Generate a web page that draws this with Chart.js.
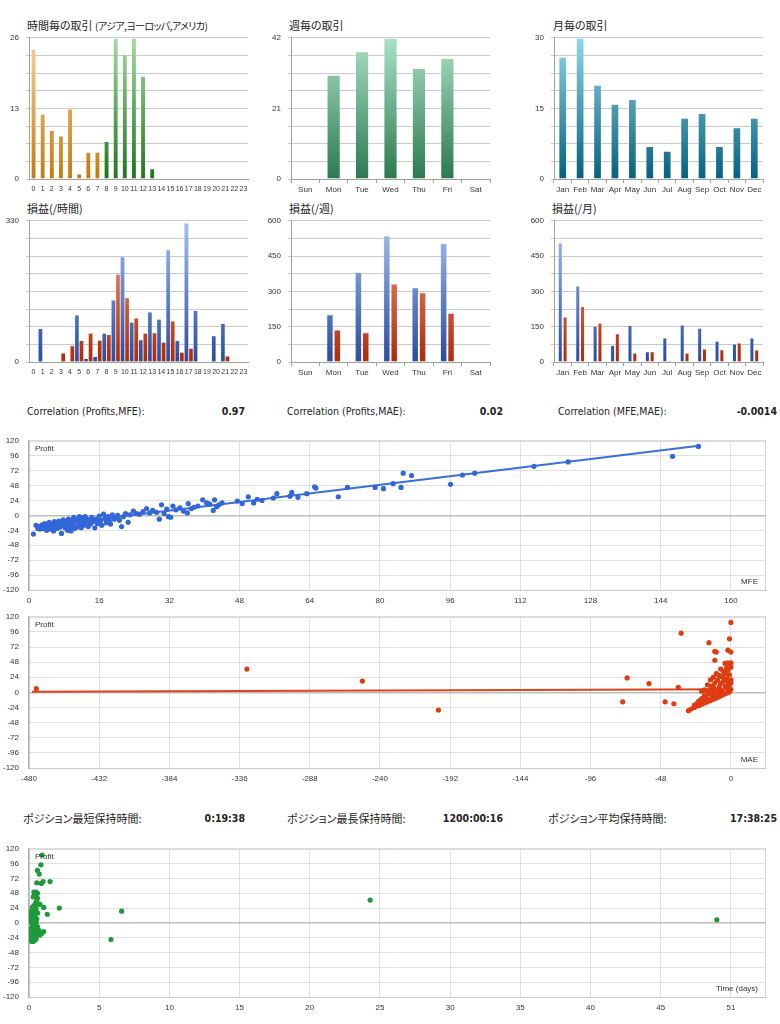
<!DOCTYPE html>
<html><head><meta charset="utf-8">
<script src="https://cdn.jsdelivr.net/npm/chart.js@4.4.0/dist/chart.umd.min.js"></script>
<style>
body{margin:0;background:#fff;width:780px;height:1024px;position:relative;overflow:hidden;font-family:"Liberation Sans",Arial,sans-serif;}
canvas{position:absolute;}
.t{position:absolute;font-family:"Noto Sans CJK JP",sans-serif;font-size:11px;color:#222;white-space:nowrap;font-feature-settings:"palt";line-height:14px;}
.k{font-size:10px;letter-spacing:-0.6px;}
.s{position:absolute;font-family:"DejaVu Sans Condensed","DejaVu Sans",sans-serif;font-stretch:condensed;font-size:10.5px;color:#222;white-space:nowrap;line-height:14px;}
.b{font-weight:bold;text-align:right;}
.j{font-family:"Noto Sans CJK JP",sans-serif;font-feature-settings:"palt";font-size:11px;font-stretch:normal;}
</style></head><body>

<div class="t" style="left:27px;top:18px;">時間毎の取引 <span class="k">(アジア,ヨーロッパ,アメリカ)</span></div>
<div class="t" style="left:289px;top:18px;">週毎の取引</div>
<div class="t" style="left:553px;top:18px;">月毎の取引</div>
<div class="t" style="left:27px;top:201px;">損益(/時間)</div>
<div class="t" style="left:289px;top:201px;">損益(/週)</div>
<div class="t" style="left:552px;top:201px;">損益(/月)</div>

<canvas id="c1" width="252" height="171" style="left:0;top:26px"></canvas>
<canvas id="c2" width="234" height="171" style="left:260px;top:26px"></canvas>
<canvas id="c3" width="247" height="171" style="left:520px;top:26px"></canvas>
<canvas id="c4" width="252" height="171" style="left:0;top:209px"></canvas>
<canvas id="c5" width="234" height="171" style="left:260px;top:209px"></canvas>
<canvas id="c6" width="247" height="171" style="left:520px;top:209px"></canvas>

<div class="s" style="left:27px;top:404px;">Correlation (Profits,MFE):</div>
<div class="s b" style="left:165px;width:80px;top:404px;">0.97</div>
<div class="s" style="left:287px;top:404px;">Correlation (Profits,MAE):</div>
<div class="s b" style="left:423px;width:80px;top:404px;">0.02</div>
<div class="s" style="left:558px;top:404px;">Correlation (MFE,MAE):</div>
<div class="s b" style="left:677px;width:100px;top:404px;">-0.0014</div>

<canvas id="s1" width="780" height="184" style="left:0;top:426px"></canvas>
<canvas id="s2" width="780" height="186" style="left:0;top:602px"></canvas>

<div class="s j" style="left:23px;top:811px;">ポジション最短保持時間:</div>
<div class="s b" style="left:165px;width:80px;top:811px;">0:19:38</div>
<div class="s j" style="left:287px;top:811px;">ポジション最長保持時間:</div>
<div class="s b" style="left:403px;width:100px;top:811px;">1200:00:16</div>
<div class="s j" style="left:548px;top:811px;">ポジション平均保持時間:</div>
<div class="s b" style="left:677px;width:100px;top:811px;">17:38:25</div>

<canvas id="s3" width="780" height="183" style="left:0;top:834px"></canvas>

<script>
// ---------------- data ----------------
const hours = ['0','1','2','3','4','5','6','7','8','9','10','11','12','13','14','15','16','17','18','19','20','21','22','23'];
const tradesPerHour = [24,12,9,8,13,1,5,5,7,26,23,26,19,2,0,0,0,0,0,0,0,0,0,0];
const weekdays = ['Sun','Mon','Tue','Wed','Thu','Fri','Sat'];
const tradesPerWeekday = [0,31,38,42,33,36,0];
const months = ['Jan','Feb','Mar','Apr','May','Jun','Jul','Aug','Sep','Oct','Nov','Dec'];
const tradesPerMonth = [26,30,20,16,17,7,6,13,14,7,11,13];

const profitPerHour = [0,78,0,0,0,110,8,13,67,145,246,93,52,117,100,262,50,325,120,0,61,90,0,0];
const lossPerHour   = [0,0,0,21,38,50,67,51,64,205,150,103,67,68,46,96,23,32,0,0,0,14,0,0];
const profitPerWeekday = [0,202,382,537,317,505,0];
const lossPerWeekday   = [0,137,126,333,296,208,0];
const profitPerMonth = [507,324,153,71,156,45,103,159,145,89,78,103];
const lossPerMonth   = [193,237,166,121,40,45,6,38,57,53,82,52];

// y-axis tick labels of the bar charts
const hourTradeLabels = [0,13,26];
const weekTradeLabels = [0,21,42];
const monthTradeLabels = [0,15,30];
const hourProfitLabels = [0,330];
const weekProfitLabels = [0,150,300,450,600];
const monthProfitLabels = [0,150,300,450,600];

// scatter tick values
const profitTicks = [-120,-96,-72,-48,-24,0,24,48,72,96,120];
const mfeTicks = [0,16,32,48,64,80,96,112,128,144,160];
const maeTicks = [-480,-432,-384,-336,-288,-240,-192,-144,-96,-48,0];
const durationTicks = [0,5,10,15,20,25,30,35,40,45,50];
const durationTickLabels = ['0','5','10','15','20','25','30','35','40','45','51'];

// MFE vs Profit
const mfePoints = [
[1.0,-30],[1.6,-16],[2.0,-21],[2.2,-18],[2.5,-22],[2.7,-19],[3.0,-15],[3.1,-21],[3.4,-17],[3.6,-13],[3.8,-20],[4.0,-24],[4.1,-16],[4.4,-18],[4.6,-11],[4.8,-22],[5.0,-16],[5.2,-14],[5.4,-20],[5.6,-25],[5.8,-10],[6.0,-17],[6.2,-12],[6.4,-21],[6.6,-14],[6.8,-9],[7.0,-19],[7.2,-11],[7.4,-29],[7.6,-16],[7.8,-7],[8.0,-13],[8.2,-20],[8.4,-9],[8.6,-17],[8.8,-24],[9.0,-6],[9.2,-12],[9.4,-18],[9.6,-25],[9.8,-8],[10.0,-14],[10.2,-3],[10.4,-21],[10.6,-10],[10.9,-19],[11.1,-6],[11.3,-15],[11.5,-2],[11.7,-12],[11.9,-20],[12.1,-4],[12.3,-9],[12.5,-16],[12.8,-2],[13.0,-11],[13.2,-6],[13.5,-18],[13.8,-8],[14.0,-14],[14.3,-3],[14.6,-10],[15.0,-20],[15.3,-6],[15.6,-13],[16.0,-1],[16.3,-9],[16.6,-16],[17.0,2],[17.3,-5],[17.6,-12],[18.0,-2],[18.3,-8],[18.6,-14],[19.0,1],[19.4,-6],[19.8,-3],[20.2,0],[20.6,-8],[21.1,-18],[21.5,-2],[22.0,3],[22.6,-11],[23.0,1],[23.8,7],[24.5,3],[25.2,2],[26.0,6],[26.8,11],[27.5,4],[28.2,8],[29.1,5],[29.7,-6],[30.2,17],[30.8,3],[31.4,10],[31.8,-2],[32.3,-3],[32.8,15],[33.5,9],[34.4,12],[35.2,7],[36.1,4],[36.3,19],[37.0,11],[37.6,13],[38.5,15],[39.6,25],[40.5,20],[41.2,18],[42.0,8],[42.3,25],[42.8,14],[43.3,17],[44.0,20],[47.5,23],[48.6,19],[50.0,30],[51.2,20],[52.0,26],[53.1,24],[55.7,28],[56.5,35],[59.5,31],[59.9,37],[61.3,29],[63.3,35],[65.1,46],[65.4,44],[70.5,30],[72.6,45],[78.9,45],[80.8,43],[83.0,51],[84.8,45],[85.3,68],[87.2,64],[96.1,50],[98.8,65],[101.6,68],[115.1,79],[122.9,86],[146.7,95],[152.6,111]
];
const mfeTrend = [[1.5,-18.7],[152.7,112]];

// MAE vs Profit
const maePoints = [
[-475,6],[-331,37],[-252,18],[-200,-28],[-74,-15],[-71,23],[-56,14],[-45,-15],[-39,-18],[-36,8],[-34,94],
[-29,-29],[-27,-26],[-25,-24],[-24,-22],[-22,-21],[-21,-18],[-20,-19],[-19,-16],[-18,-17],[-17,-14],[-16,-15],[-15,-12],[-14,-13],[-13,-10],[-12,-11],[-11,-8],[-10,-9],[-9,-6],[-8,-7],[-7,-5],[-6,-4],[-5,-3],[-4,-2],[-3,-1],[-2,0],[-1,1],
[-20,-10],[-18,-5],[-16,2],[-15,-2],[-14,5],[-13,10],[-12,0],[-11,15],[-10,4],[-9,20],[-8,9],[-7,14],[-6,25],[-5,18],[-4,30],[-3,22],[-2,35],[-1,28],[0,40],[-6,2],[-3,8],[-1,12],[0,5],[0,15],[0,20],[-2,17],[-4,10],[-7,3],[-9,-1],[-11,3],[-13,-4],[-17,-8],[-19,-12],[-22,-14],[-25,-20],[-23,-17],[-12,8],[-8,27],[-5,33],[-3,38],[-1,45],[0,47],[-2,47],[-4,46],[-7,37],[-10,30],[-12,24],[-14,20],[-16,12],[-18,4],[-20,2],
[-11,65],[-10,64],[-2,67],[0,64],[-11,51],[-15,79],[-1,85],[0,111]
];
const maeTrend = [[-478,1],[0,5]];

// Duration (days) vs Profit
const durationPoints = [
[0.05,-20],[0.08,-10],[0.1,-25],[0.1,5],[0.12,18],[0.15,-15],[0.15,-28],[0.18,0],[0.2,-22],[0.2,10],[0.22,25],[0.25,-18],[0.25,-5],[0.28,-12],[0.3,-30],[0.3,3],[0.3,15],[0.32,-8],[0.35,-24],[0.35,20],[0.35,28],[0.38,-2],[0.4,-16],[0.4,8],[0.4,45],[0.42,-20],[0.45,12],[0.45,-10],[0.48,33],[0.5,-26],[0.5,0],[0.5,22],[0.5,50],[0.55,-14],[0.55,6],[0.58,-20],[0.6,40],[0.6,-6],[0.62,16],[0.65,-18],[0.7,-12],[0.7,30],[0.75,-20],[0.8,-16],[0.85,-18],[0.9,-17],[1.05,-14],[0.3,-20],[0.2,-12],[0.45,-22],[0.35,-4],[0.25,8],[0.15,12],[0.4,24],[0.55,35],[0.6,48],[0.45,44],[0.35,50],[0.3,42],[0.5,28],[0.25,-26],[0.4,-28],[0.2,-30],
[0.93,110],[0.85,94],[0.6,85],[0.73,79],[0.55,65],[0.88,64],[1.0,67],[1.5,67],[2.16,24],[1.05,25],[1.3,14],[0.78,30],[6.6,19],[5.84,-27],[24.3,37],[49.0,5]
];

// ---------------- helpers ----------------
const F = '"Liberation Sans", Arial, sans-serif';
const GRID = '#c9c9c9', AXIS = '#a0a0a0', TXT = '#333';

function grad(top, bottom){
  return (c) => {
    const ch = c.chart, a = ch.chartArea;
    if (!a) return bottom;
    const g = ch.ctx.createLinearGradient(0, a.top, 0, a.bottom);
    g.addColorStop(0, top); g.addColorStop(1, bottom);
    return g;
  };
}
const orangeG = grad('#fbd39a', '#c47a0c');
const greenG = grad('#a3dca3', '#1c761c');
const blueSessG = grad('#9ab6ee', '#2a4c9c');
const weekG = grad('#abe0c4', '#2a7a50');
const teaG = grad('#92d6e8', '#05617e');
const blueG = grad('#a9c2f0', '#284c9e');
const redG = grad('#f2a488', '#ad2a08');

function makeBar(id, o){
  const steps = Array.from({length:9}, (_, i) => o.yMax * i / 8);
  new Chart(document.getElementById(id), {
    type: 'bar',
    data: {labels: o.labels, datasets: o.datasets},
    options: {
      responsive: false, animation: false, events: [],
      layout: {padding: {top: 10, right: o.rightPad, left: 0, bottom: 0}},
      plugins: {legend: {display: false}, tooltip: {enabled: false}},
      datasets: {bar: {categoryPercentage: o.catPct}},
      scales: {
        x: {
          offset: true,
          grid: {display: o.marks, offset: true, drawOnChartArea: false, tickLength: 4, color: AXIS},
          border: {display: true, color: AXIS},
          ticks: {font: {size: o.xFont || 8, family: F}, color: TXT, padding: 2, maxRotation: 0, minRotation: 0, autoSkip: false},
          afterFit: s => { s.height = 18; }
        },
        y: {
          min: 0, max: o.yMax,
          afterBuildTicks: ax => { ax.ticks = steps.map(v => ({value: v})); },
          ticks: {font: {size: 8, family: F}, color: TXT, padding: 7,
                  callback: v => o.yLabels.includes(v) ? String(v) : ''},
          grid: {color: GRID, tickLength: 3},
          border: {color: AXIS},
          afterFit: s => { s.width = o.yWidth; }
        }
      }
    }
  });
}

function tradeDs(values, bg, bp){
  return {data: values, backgroundColor: bg, borderColor: 'rgba(255,255,255,0.35)', borderWidth: 1, barPercentage: bp, borderSkipped: 'bottom'};
}

makeBar('c1', {labels: hours, yMax: 26, yLabels: hourTradeLabels, yWidth: 29, marks: false, rightPad: 4, catPct: 1, xFont: 7,
  datasets: [tradeDs(tradesPerHour, c => c.dataIndex < 8 ? orangeG(c) : (c.dataIndex < 16 ? greenG(c) : blueSessG(c)), 0.64)]});
makeBar('c2', {labels: weekdays, yMax: 42, yLabels: weekTradeLabels, yWidth: 31, marks: true, rightPad: 4, catPct: 1,
  datasets: [tradeDs(tradesPerWeekday, weekG, 0.5)]});
makeBar('c3', {labels: months, yMax: 30, yLabels: monthTradeLabels, yWidth: 34, marks: true, rightPad: 4, catPct: 1,
  datasets: [tradeDs(tradesPerMonth, teaG, 0.5)]});

function plDs(p, l, bp){
  return [
    {data: p, backgroundColor: blueG, borderColor: 'rgba(190,210,250,0.35)', borderWidth: 0.8, barPercentage: bp, borderSkipped: 'bottom'},
    {data: l, backgroundColor: redG, borderColor: 'rgba(250,190,170,0.35)', borderWidth: 0.8, barPercentage: bp, borderSkipped: 'bottom'}
  ];
}
makeBar('c4', {labels: hours, yMax: 330, yLabels: hourProfitLabels, yWidth: 29, marks: false, rightPad: 4, catPct: 1, xFont: 7,
  datasets: plDs(profitPerHour, lossPerHour, 1.0)});
makeBar('c5', {labels: weekdays, yMax: 600, yLabels: weekProfitLabels, yWidth: 31, marks: true, rightPad: 4, catPct: 0.52,
  datasets: plDs(profitPerWeekday, lossPerWeekday, 0.95)});
makeBar('c6', {labels: months, yMax: 600, yLabels: monthProfitLabels, yWidth: 34, marks: true, rightPad: 4, catPct: 0.55,
  datasets: plDs(profitPerMonth, lossPerMonth, 0.95)});

// ---------- scatter charts ----------
const framePlugin = {
  id: 'frame',
  beforeDatasetsDraw(chart){
    const a = chart.chartArea, ctx = chart.ctx;
    ctx.save();
    ctx.strokeStyle = '#d2d2d2'; ctx.lineWidth = 1;
    ctx.beginPath();
    ctx.moveTo(a.left, a.top + 0.5); ctx.lineTo(a.right - 0.5, a.top + 0.5); ctx.lineTo(a.right - 0.5, a.bottom);
    ctx.stroke();
    ctx.restore();
  },
  afterDraw(chart, args, opts){
    const a = chart.chartArea, ctx = chart.ctx;
    ctx.save();
    ctx.font = '8px ' + F; ctx.fillStyle = '#333'; ctx.textBaseline = 'middle';
    ctx.textAlign = 'left'; ctx.fillText('Profit', a.left + 6, a.top + 8);
    ctx.textAlign = 'right'; ctx.fillText(opts.xName, a.right - 8, a.bottom - 8);
    ctx.restore();
  }
};

function makeScatter(id, o){
  const datasets = [{data: o.points.map(p => ({x: p[0], y: p[1]})), backgroundColor: o.color, borderWidth: 0, pointRadius: 2.6}];
  if (o.trend) datasets.push({data: o.trend.map(p => ({x: p[0], y: p[1]})), showLine: true, borderColor: o.lineColor, borderWidth: 2, pointRadius: 0, fill: false});
  new Chart(document.getElementById(id), {
    type: 'scatter',
    data: {datasets},
    plugins: [framePlugin],
    options: {
      responsive: false, animation: false, events: [],
      layout: {padding: {top: 10, right: 14, left: 0, bottom: 0}},
      plugins: {legend: {display: false}, tooltip: {enabled: false}, frame: {xName: o.xName}},
      scales: {
        x: {
          type: 'linear', min: o.xMin, max: o.xMax,
          afterBuildTicks: ax => { ax.ticks = o.xTicks.map(v => ({value: v})); },
          ticks: {font: {size: 8, family: F}, color: TXT, padding: 6, maxRotation: 0,
                  callback: (v, i) => o.xLabels ? o.xLabels[i] : String(v)},
          grid: {color: '#e0e0e0', drawTicks: false},
          border: {color: '#c8c8c8'},
          afterFit: s => { s.height = 20; }
        },
        y: {
          min: -120, max: 120,
          afterBuildTicks: ax => { ax.ticks = profitTicks.map(v => ({value: v})); },
          ticks: {font: {size: 8, family: F}, color: TXT, padding: 10},
          grid: {color: c => (c.tick && c.tick.value === 0) ? '#bdbdbd' : '#e0e0e0',
                 lineWidth: c => (c.tick && c.tick.value === 0) ? 1.5 : 1, drawTicks: false},
          border: {color: '#b0b0b0', width: 1.5},
          afterFit: s => { s.width = 29; }
        }
      }
    }
  });
}

makeScatter('s1', {points: mfePoints, trend: mfeTrend, color: '#3366d6', lineColor: '#3b6fd9',
  xMin: 0, xMax: 168, xTicks: mfeTicks, xName: 'MFE'});
makeScatter('s2', {points: maePoints, trend: maeTrend, color: '#e03c12', lineColor: '#e0421a',
  xMin: -480, xMax: 24, xTicks: maeTicks, xName: 'MAE'});
makeScatter('s3', {points: durationPoints, trend: null, color: '#1e9a3a',
  xMin: 0, xMax: 52.5, xTicks: durationTicks, xLabels: durationTickLabels, xName: 'Time (days)'});
</script>
</body></html>
